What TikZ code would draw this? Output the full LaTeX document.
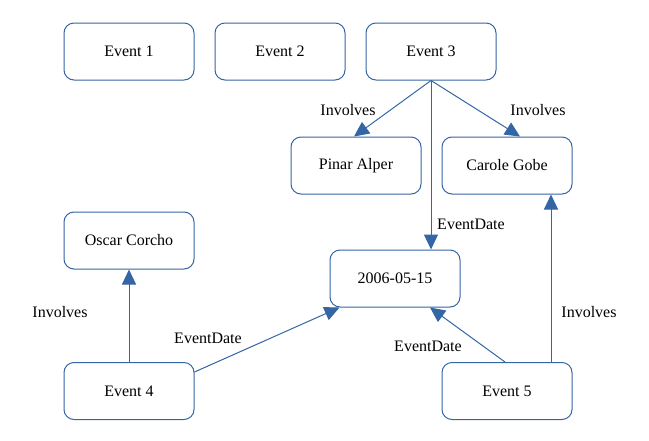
\documentclass[tikz,border=0pt]{standalone}
\usepackage{fontspec}
\setmainfont{Liberation Serif}
\usetikzlibrary{arrows.meta}
\definecolor{lblue}{HTML}{3465A4}
\begin{document}
\begin{tikzpicture}[x=1pt,y=-1pt,
  box/.style={draw=lblue,line width=1pt,rounded corners=10pt,minimum width=130pt,minimum height=57pt,inner sep=0pt,font=\fontsize{16}{19}\selectfont},
  rel/.style={draw=lblue,line width=1pt,-{Triangle[length=15pt,width=14pt]}},
  lbl/.style={font=\fontsize{16}{19}\selectfont,inner sep=0pt}]
\useasboundingbox (0,0) rectangle (649,440);
\node[box] (e1) at (129,51.5) {Event 1};
\node[box] (e2) at (280,51.5) {Event 2};
\node[box] (e3) at (431,51.5) {Event 3};
\node[box] (pa) at (356,165.5) {Pinar Alper};
\node[box] (cg) at (507,165.5) {Carole Gobe};
\node[box] (oc) at (129,240.5) {Oscar Corcho};
\node[box] (d) at (395,278.5) {2006-05-15};
\node[box] (e4) at (129,391) {Event 4};
\node[box] (e5) at (507,391) {Event 5};
\draw[rel] (e3.south) -- ([xshift=-2pt]pa.north);
\draw[rel] (e3.south) -- ([xshift=13pt]cg.north);
\draw[rel] (e3.south) -- (e3.south |- d.north);
\draw[rel] (e4.north) -- (oc.south);
\draw[rel] ([yshift=19pt]e4.east) -- ([xshift=10pt]d.south west);
\draw[rel] ([xshift=-2pt]e5.north) -- ([xshift=35pt]d.south);
\draw[rel] ([xshift=44pt]e5.north) -- ([xshift=44pt]cg.south);
\node[lbl] (l1) at (348,110) {Involves};
\node[lbl] (l2) at (538,110) {Involves};
\node[lbl] (l3) at (471,224) {EventDate};
\node[lbl] (l4) at (60,312) {Involves};
\node[lbl] (l5) at (208,338) {EventDate};
\node[lbl] (l6) at (428,346) {EventDate};
\node[lbl] (l7) at (589,312) {Involves};
\end{tikzpicture}
\end{document}
